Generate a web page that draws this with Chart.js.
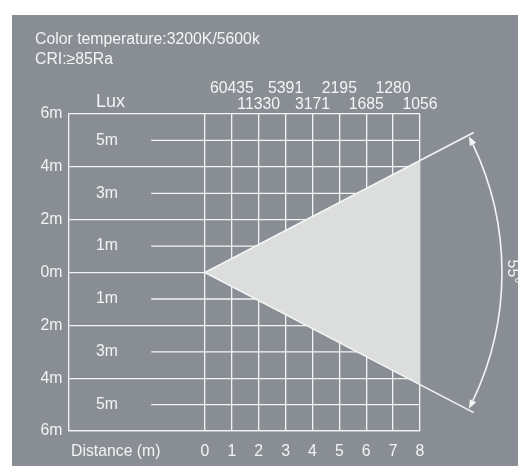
<!DOCTYPE html>
<html>
<head>
<meta charset="utf-8">
<title>Beam chart</title>
<script src="https://cdn.jsdelivr.net/npm/chart.js@4.4.1/dist/chart.umd.min.js"></script>
<style>
  html, body { margin: 0; padding: 0; background: #fff; }
  canvas { display: block; }
</style>
</head>
<body>
<canvas id="beamChart" width="518" height="466"></canvas>
<script>
// values
const distances = [1, 2, 3, 4, 5, 6, 7, 8];
const luxValues = [60435, 11330, 5391, 3171, 2195, 1685, 1280, 1056];
const gridDistances = [0, 1, 2, 3, 4, 5, 6, 7, 8];
const halfRows = [5, 3, 1, -1, -3, -5];
const beamX = [0, 8, 10];
const beamHalfWidth = [0, 4.24, 5.3];
const beamAngleLabel = '55°';
const titleLines = ['Color temperature:3200K/5600k', 'CRI:≥85Ra'];

const X_MIN = -5.06;
const X_MAX = 8;
const DIST_LABEL_X = -3.32;
const LUX_LABEL_X = -3.52;
const HALF_ROW_START = -2;
const ARC_RADIUS = 11.05;
const ARC_HALF_DEG = 27.3;

const BG = '#898e94';
const LINE = '#f4f4f4';
const TEXT = '#f4f4f4';
const FILL = '#dcdedd';
const FAMILY = '"Liberation Sans", Arial, sans-serif';
const FONT = { family: FAMILY, size: 15.8, lineHeight: 1 };
const TOP_FONT = { family: FAMILY, size: 15.8, lineHeight: 1.04 };
const LUX_FONT = { family: FAMILY, size: 18, lineHeight: 1.24 };

const upperEdge = beamX.map((x, i) => ({ x: x, y: beamHalfWidth[i] }));
const lowerEdge = beamX.map((x, i) => ({ x: x, y: -beamHalfWidth[i] }));
const fanShape = upperEdge.slice(0, 2).concat(lowerEdge.slice(0, 2).reverse());

const lineStyle = {
    borderColor: LINE,
    pointRadius: 0,
    fill: false,
    tension: 0,
    xAxisID: 'x',
    yAxisID: 'y'
};

const datasets = [
    Object.assign({}, lineStyle, { data: upperEdge, borderWidth: 1.6, clip: false, order: 0 }),
    Object.assign({}, lineStyle, { data: lowerEdge, borderWidth: 1.6, clip: false, order: 0 }),
    Object.assign({}, lineStyle, { data: fanShape, borderWidth: 0, fill: 'shape', backgroundColor: FILL, order: 1 })
];
halfRows.forEach(function(r) {
    datasets.push(Object.assign({}, lineStyle, {
        data: [{ x: HALF_ROW_START, y: r }, { x: X_MAX, y: r }],
        borderWidth: 1.3,
        order: 2
    }));
});

const beamDecor = {
    id: 'beamDecor',
    beforeDraw(chart) {
        const ctx = chart.ctx;
        ctx.save();
        ctx.fillStyle = BG;
        ctx.fillRect(12, 15, chart.width - 12, chart.height - 15);
        ctx.restore();
    },
    afterDraw(chart) {
        const ctx = chart.ctx;
        const x = chart.scales.x, y = chart.scales.y;
        ctx.save();
        ctx.fillStyle = TEXT;
        ctx.font = '15.8px ' + FAMILY;
        ctx.textBaseline = 'alphabetic';
        ctx.fillText(titleLines[0], 35, 44);
        ctx.fillText(titleLines[1], 35, 64);

        // angle arc with arrows, centred on the lamp
        const cx = x.getPixelForValue(0), cy = y.getPixelForValue(0);
        const r = x.getPixelForValue(ARC_RADIUS) - cx;
        const a = ARC_HALF_DEG * Math.PI / 180;
        const head = 9, half = 3.5;
        ctx.strokeStyle = LINE;
        ctx.lineWidth = 1.6;
        ctx.beginPath();
        ctx.arc(cx, cy, r, -a + head / r, a - head / r);
        ctx.stroke();
        [-a, a].forEach(function(ang) {
            const s = Math.sign(ang);
            const tx = cx + r * Math.cos(ang), ty = cy + r * Math.sin(ang);
            const dx = s * -Math.sin(ang), dy = s * Math.cos(ang);
            const bx = tx - dx * head, by = ty - dy * head;
            ctx.beginPath();
            ctx.moveTo(tx, ty);
            ctx.lineTo(bx - dy * half, by + dx * half);
            ctx.lineTo(bx + dy * half, by - dx * half);
            ctx.closePath();
            ctx.fill();
        });

        ctx.translate(cx + r + 6, cy - 1);
        ctx.rotate(Math.PI / 2);
        ctx.textAlign = 'center';
        ctx.fillText(beamAngleLabel, 0, 0);
        ctx.restore();
    }
};

const beamChart = new Chart(document.getElementById('beamChart'), {
    type: 'line',
    data: { datasets: datasets },
    options: {
        responsive: false,
        animation: false,
        events: [],
        layout: { padding: { left: 0, right: 98, top: 0, bottom: 0 } },
        plugins: { legend: { display: false }, tooltip: { enabled: false } },
        scales: {
            x: {
                // range set here rather than min/max so the beam rays past 8 m are not cut off
                type: 'linear', position: 'bottom', bounds: 'data',
                afterDataLimits: s => { s.min = X_MIN; s.max = X_MAX; },
                afterBuildTicks: s => { s.ticks = [DIST_LABEL_X].concat(gridDistances).map(v => ({ value: v })); },
                afterFit: s => { s.height = 29; },
                grid: { color: c => (c.tick && c.tick.value >= 0 ? LINE : 'transparent'), lineWidth: 1.3, drawTicks: false },
                border: { color: LINE, width: 1.3 },
                ticks: {
                    autoSkip: false, maxRotation: 0, padding: 13, font: FONT, color: TEXT,
                    callback: v => (v === DIST_LABEL_X ? 'Distance (m)' : String(v))
                }
            },
            y: {
                type: 'linear', position: 'left', min: -6, max: 6, weight: 1,
                afterFit: s => { s.width = 69; },
                grid: { color: c => (c.tick && c.tick.value % 2 === 0 ? LINE : 'transparent'), lineWidth: 1.3, drawTicks: false },
                border: { color: LINE, width: 1.3 },
                ticks: {
                    stepSize: 1, autoSkip: false, padding: 6.5, font: FONT, color: TEXT,
                    callback: v => (v % 2 === 0 ? Math.abs(v) + 'm' : '')
                }
            },
            yOdd: {
                type: 'linear', position: 'left', min: -6, max: 6, weight: 0,
                afterFit: s => { s.width = 0; },
                grid: { display: false, drawTicks: false },
                border: { display: false },
                ticks: {
                    stepSize: 1, autoSkip: false, mirror: true, padding: 27, font: FONT, color: TEXT,
                    callback: v => (Math.abs(v % 2) === 1 ? Math.abs(v) + 'm' : '')
                }
            },
            xTop: {
                type: 'linear', position: 'top', min: X_MIN, max: X_MAX,
                afterBuildTicks: s => { s.ticks = [LUX_LABEL_X].concat(distances).map(v => ({ value: v })); },
                afterFit: s => { s.height = 114; },
                grid: { display: false, drawTicks: false },
                border: { display: false },
                ticks: {
                    autoSkip: false, maxRotation: 0, padding: 0.8, color: TEXT,
                    font: c => (c.tick && c.tick.value === LUX_LABEL_X ? LUX_FONT : TOP_FONT),
                    callback: v => {
                        if (v === LUX_LABEL_X) return 'Lux';
                        const i = distances.indexOf(v);
                        const s = String(luxValues[i]);
                        return i % 2 === 0 ? [s, ''] : ['', s];
                    }
                }
            }
        }
    },
    plugins: [beamDecor]
});
</script>
</body>
</html>
